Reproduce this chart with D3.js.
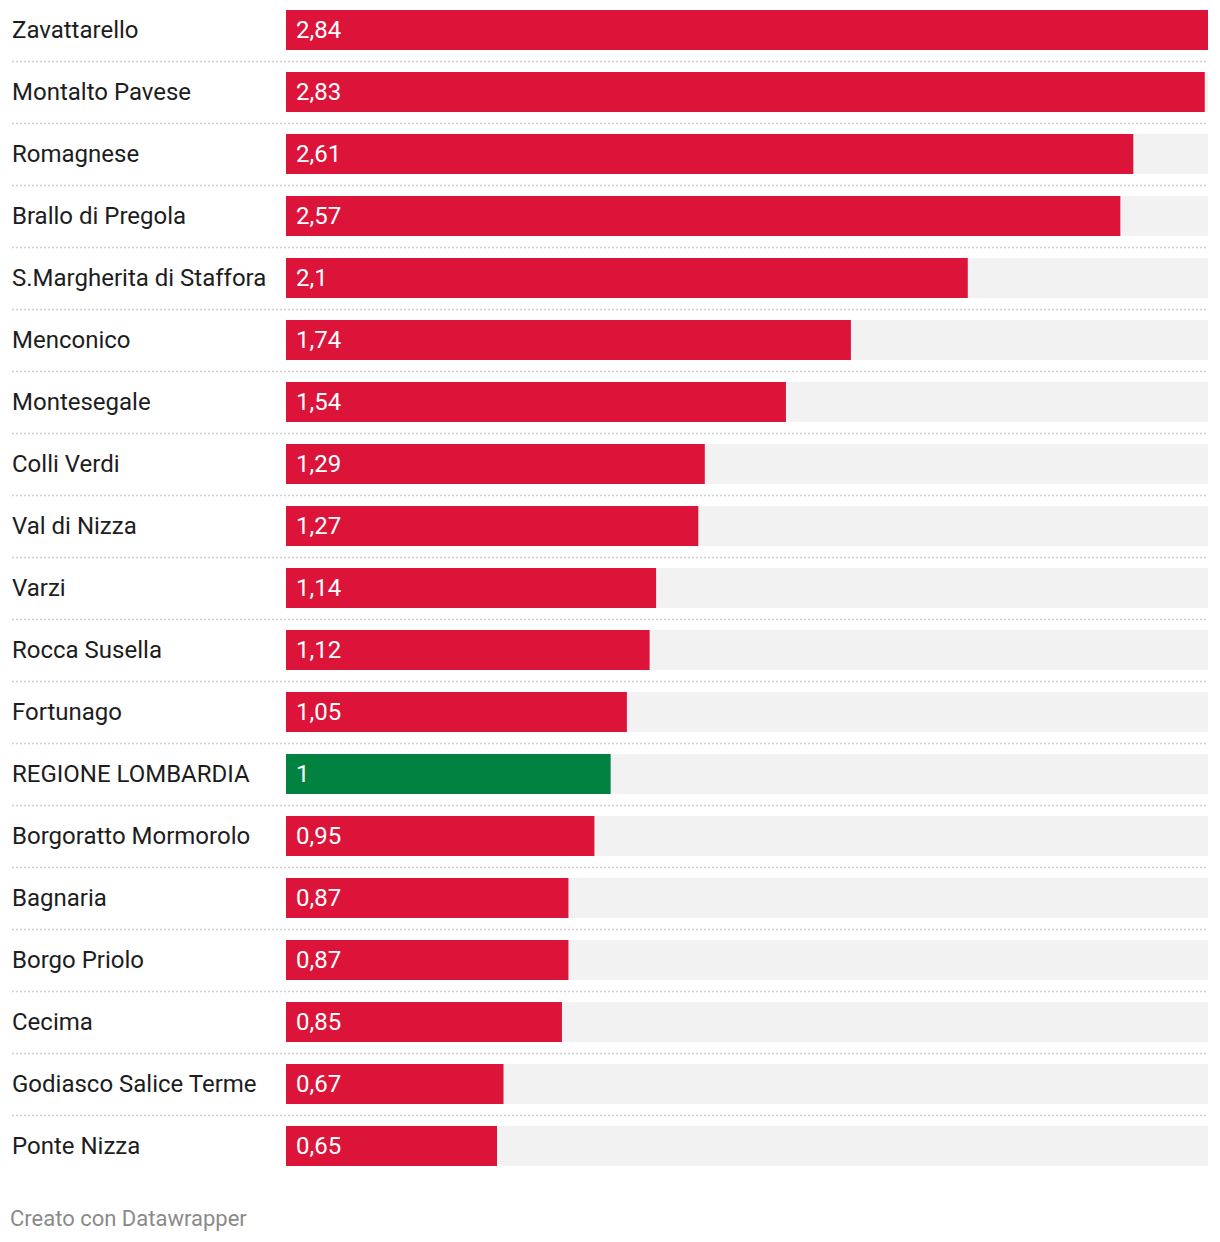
<!DOCTYPE html>
<html>
<head>
<meta charset="utf-8">
<script src="https://cdn.jsdelivr.net/npm/d3@7"></script>
<style>
  html, body { margin: 0; padding: 0; background: #fff; }
  svg { display: block; }
  text { font-family: Roboto, "Noto Sans", sans-serif; }
</style>
</head>
<body>
<svg id="chart" width="1220" height="1242"></svg>
<script>
const categories = [
  "Zavattarello", "Montalto Pavese", "Romagnese", "Brallo di Pregola",
  "S.Margherita di Staffora", "Menconico", "Montesegale", "Colli Verdi",
  "Val di Nizza", "Varzi", "Rocca Susella", "Fortunago", "REGIONE LOMBARDIA",
  "Borgoratto Mormorolo", "Bagnaria", "Borgo Priolo", "Cecima",
  "Godiasco Salice Terme", "Ponte Nizza"
];
const values = [2.84, 2.83, 2.61, 2.57, 2.1, 1.74, 1.54, 1.29, 1.27, 1.14, 1.12, 1.05, 1, 0.95, 0.87, 0.87, 0.85, 0.67, 0.65];
const highlight = ["REGIONE LOMBARDIA"];
const footerText = "Creato con Datawrapper";

const data = categories.map((c, i) => ({ name: c, value: values[i] }));
const svg = d3.select("#chart");

const x = d3.scaleLinear().domain([0, d3.max(values)]).range([286, 1208]);
const y = d3.scaleBand().domain(categories).range([-1, 1177])
  .paddingInner(22 / 62).paddingOuter(11 / 62);

const fmt = v => String(v).replace(".", ",");

// separators
svg.append("g").selectAll("line")
  .data(categories.slice(0, -1))
  .join("line")
  .attr("x1", 12).attr("x2", 1208)
  .attr("y1", d => y(d) + y.bandwidth() + 11.5)
  .attr("y2", d => y(d) + y.bandwidth() + 11.5)
  .attr("stroke", "#cfcfcf")
  .attr("stroke-width", 1.5)
  .attr("stroke-dasharray", "2,2");

const rows = svg.append("g").selectAll("g").data(data).join("g");

rows.append("rect")
  .attr("x", x(0)).attr("y", d => y(d.name))
  .attr("width", x.range()[1] - x(0)).attr("height", y.bandwidth())
  .attr("fill", "#f2f2f2");

rows.append("rect")
  .attr("x", x(0)).attr("y", d => y(d.name))
  .attr("width", d => x(d.value) - x(0)).attr("height", y.bandwidth())
  .attr("fill", d => highlight.includes(d.name) ? "#028241" : "#dc143a");

rows.append("text")
  .attr("x", 12).attr("y", d => y(d.name) + y.bandwidth() / 2)
  .attr("dy", "0.35em")
  .attr("font-size", 24)
  .attr("fill", "#1d1d1d")
  .text(d => d.name);

rows.append("text")
  .attr("x", x(0) + 10).attr("y", d => y(d.name) + y.bandwidth() / 2)
  .attr("dy", "0.35em")
  .attr("font-size", 24)
  .attr("fill", "#ffffff")
  .text(d => fmt(d.value));

svg.append("text")
  .attr("x", 10).attr("y", 1226)
  .attr("font-size", 22)
  .attr("fill", "#8a8a8a")
  .text(footerText);
</script>
</body>
</html>
